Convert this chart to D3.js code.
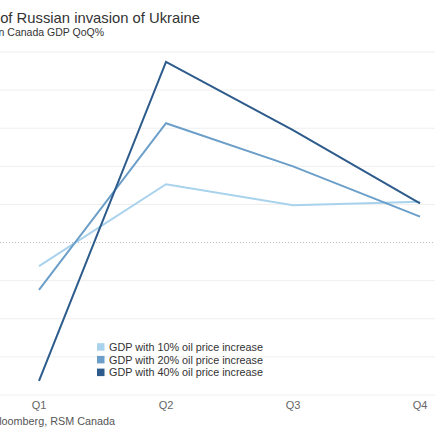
<!DOCTYPE html>
<html>
<head>
<meta charset="utf-8">
<script src="https://cdn.jsdelivr.net/npm/d3@7"></script>
<style>
  body { margin: 0; background: #fff; }
  svg { display: block; font-family: "Liberation Sans", Arial, sans-serif; }
</style>
</head>
<body>
<div id="chart"></div>
<script>
// data
var quarters = ["Q1", "Q2", "Q3", "Q4"];
var seriesNames = ["GDP with 10% oil price increase", "GDP with 20% oil price increase", "GDP with 40% oil price increase"];
var gdp10 = [-0.62, 1.53, 0.98, 1.07];
var gdp20 = [-1.24, 3.13, 2.0, 0.68];
var gdp40 = [-3.63, 4.74, 2.95, 1.03];
var yTicks = [-4, -3, -2, -1, 0, 1, 2, 3, 4, 5];
var colors = ["#a9d2ec", "#6b9fc9", "#2d5b8b"];

var W = 435, H = 435;
var svg = d3.select("#chart").append("svg")
    .attr("width", W)
    .attr("height", H);

var xScale = d3.scalePoint()
    .domain(quarters)
    .range([39, 420]);

var yScale = d3.scaleLinear()
    .domain([-4, 5])
    .range([395, 52]);

// gridlines
svg.selectAll("line.grid")
    .data(yTicks.filter(function(d) { return d !== 0; }))
  .enter().append("line")
    .attr("class", "grid")
    .attr("x1", 0)
    .attr("x2", W)
    .attr("y1", function(d) { return yScale(d); })
    .attr("y2", function(d) { return yScale(d); })
    .attr("stroke", "#efefef")
    .attr("stroke-width", 1);

// zero line
svg.append("line")
    .attr("x1", 0)
    .attr("x2", W)
    .attr("y1", yScale(0))
    .attr("y2", yScale(0))
    .attr("stroke", "#bbb")
    .attr("stroke-width", 1)
    .attr("stroke-dasharray", "1,2");

// x axis labels
svg.selectAll("text.xlab")
    .data(quarters)
  .enter().append("text")
    .attr("class", "xlab")
    .attr("x", function(d) { return xScale(d); })
    .attr("y", 409)
    .attr("text-anchor", "middle")
    .style("font-size", "11px")
    .style("fill", "#666")
    .text(function(d) { return d; });

var line = d3.line()
    .x(function(d, i) { return xScale(quarters[i]); })
    .y(function(d) { return yScale(d); });

[gdp10, gdp20, gdp40].forEach(function(s, i) {
  svg.append("path")
      .datum(s)
      .attr("d", line)
      .attr("fill", "none")
      .attr("stroke", colors[i])
      .attr("stroke-width", 2);
});

// legend
var legend = svg.append("g");
seriesNames.forEach(function(name, i) {
  var y = 347 + i * 12.7;
  legend.append("rect")
      .attr("x", 97)
      .attr("y", y - 3.8)
      .attr("width", 7.5)
      .attr("height", 7.5)
      .attr("fill", colors[i]);
  legend.append("text")
      .attr("x", 109)
      .attr("y", y + 4)
      .style("font-size", "10.8px")
      .style("fill", "#333")
      .text(name);
});

// titles (cut off on the left like the reference)
svg.append("text")
    .attr("x", 200)
    .attr("y", 23)
    .attr("text-anchor", "end")
    .style("font-size", "14.8px")
    .style("fill", "#333")
    .text("Economic impact of Russian invasion of Ukraine");

svg.append("text")
    .attr("x", 104)
    .attr("y", 35.5)
    .attr("text-anchor", "end")
    .style("font-size", "10.5px")
    .style("fill", "#333")
    .text("Oil price shock on Canada GDP QoQ%");

svg.append("text")
    .attr("x", 115)
    .attr("y", 425)
    .attr("text-anchor", "end")
    .style("font-size", "10.8px")
    .style("fill", "#555")
    .text("Source: Bloomberg, RSM Canada");
</script>
</body>
</html>
